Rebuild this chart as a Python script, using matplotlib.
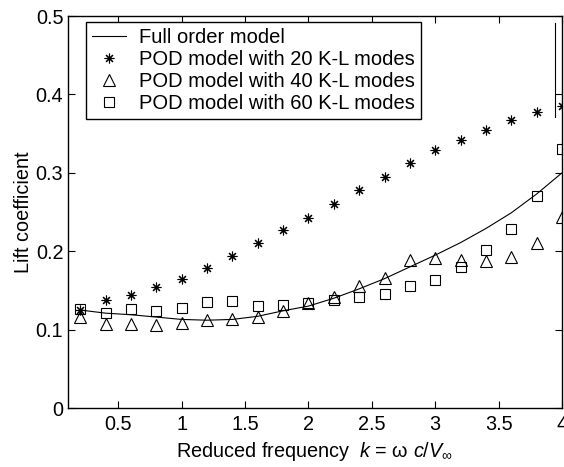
import matplotlib
matplotlib.use("Agg")
import matplotlib.pyplot as plt

plt.rcParams['font.family'] = ['Liberation Sans', 'DejaVu Sans']
plt.rcParams['mathtext.fontset'] = 'custom'
plt.rcParams['mathtext.rm'] = 'Liberation Sans'
plt.rcParams['mathtext.it'] = 'Liberation Sans:italic'

# reduced frequency k
k = [0.2, 0.4, 0.6, 0.8, 1.0, 1.2, 1.4, 1.6, 1.8, 2.0,
     2.2, 2.4, 2.6, 2.8, 3.0, 3.2, 3.4, 3.6, 3.8, 4.0]

full_order = [0.125, 0.121, 0.119, 0.116, 0.113, 0.112, 0.113, 0.117, 0.124, 0.130,
              0.140, 0.152, 0.165, 0.180, 0.195, 0.211, 0.229, 0.249, 0.273, 0.300]
pod20 = [0.125, 0.138, 0.144, 0.154, 0.165, 0.179, 0.194, 0.210, 0.227, 0.243,
         0.260, 0.278, 0.295, 0.312, 0.329, 0.342, 0.355, 0.368, 0.377, 0.385]
pod40 = [0.116, 0.107, 0.107, 0.106, 0.109, 0.112, 0.113, 0.116, 0.124, 0.134,
         0.142, 0.156, 0.166, 0.189, 0.191, 0.189, 0.187, 0.192, 0.211, 0.244]
pod60 = [0.126, 0.121, 0.126, 0.124, 0.127, 0.135, 0.137, 0.130, 0.132, 0.134,
         0.138, 0.142, 0.145, 0.155, 0.163, 0.180, 0.202, 0.228, 0.270, 0.330]

labels = ['Full order model',
          'POD model with 20 K-L modes',
          'POD model with 40 K-L modes',
          'POD model with 60 K-L modes']

fig = plt.figure(figsize=(5.64, 4.67), dpi=100)
ax = fig.add_axes([0.1197, 0.1263, 0.8768, 0.8394])

fs = 14.3
ax.plot(k, full_order, color='black', lw=0.8, label=labels[0])
ax.plot(k, pod20, ls='none', marker=(8, 2, 0), ms=7, mec='black', mew=0.8,
        label=labels[1])
ax.plot(k, pod40, ls='none', marker='^', ms=9, mfc='none', mec='black', mew=0.8,
        label=labels[2])
ax.plot(k, pod60, ls='none', marker='s', ms=6.5, mfc='none', mec='black', mew=0.8,
        label=labels[3])

# stray vertical rule that appears in the original figure
ax.axvline(3.945, ymin=0.742, ymax=0.983, color='black', lw=0.8)

ax.set_xlim(0.1, 4)
ax.set_ylim(0, 0.5)
ax.set_xticks([0.5, 1, 1.5, 2, 2.5, 3, 3.5, 4])
ax.set_xticklabels(['0.5', '1', '1.5', '2', '2.5', '3', '3.5', '4'])
ax.set_yticks([0, 0.1, 0.2, 0.3, 0.4, 0.5])
ax.set_yticklabels(['0', '0.1', '0.2', '0.3', '0.4', '0.5'])
ax.tick_params(direction='in', top=True, right=True, length=5, width=0.8,
               labelsize=fs, colors='black')
ax.tick_params(axis='x', pad=5)
ax.tick_params(axis='y', pad=3)
for s in ax.spines.values():
    s.set_linewidth(1.0)

ax.set_xlabel(r'Reduced frequency  $k$ = ω $c/V_{\infty}$', fontsize=fs, labelpad=4)
ax.set_ylabel('Lift coefficient', fontsize=fs, labelpad=2)

leg = ax.legend(loc='upper left', bbox_to_anchor=(0.037, 0.985), borderaxespad=0,
                fontsize=14.5, frameon=True, fancybox=False, edgecolor='black',
                framealpha=1, handlelength=1.7, handletextpad=0.6,
                labelspacing=0.14, borderpad=0.32)
leg.get_frame().set_linewidth(1.0)

fig.savefig('out.png', dpi=100)
